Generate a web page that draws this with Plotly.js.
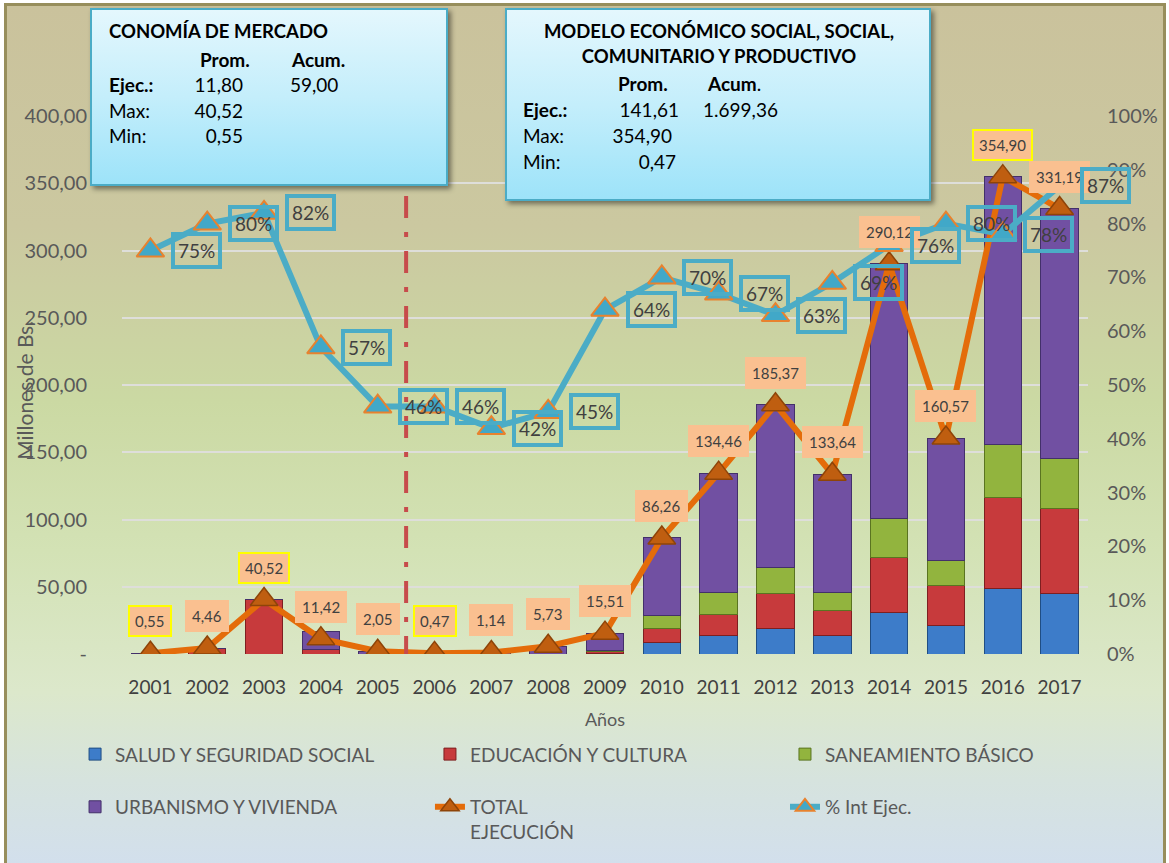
<!DOCTYPE html>
<html>
<head>
<meta charset="utf-8">
<script src="https://cdn.plot.ly/plotly-3.0.1.min.js"></script>
<style>
  html, body { margin:0; padding:0; background:#ffffff; }
  #wrap { position:relative; width:1169px; height:863px; overflow:hidden; }
  #frame { position:absolute; left:4px; top:3px; width:1156px; height:880px;
    border:3px solid #978E5C;
    background: linear-gradient(to bottom, #CAC29C 0%, #CBC8A0 25%, #CBD9A3 45%, #D3E2B5 62%, #DCE8CB 78%, #D6E3DE 88%, #D1DEF0 100%); }
  #chart { position:absolute; left:0; top:0; width:1169px; height:863px; }
  .box { position:absolute; border:2px solid #4BACC6; box-sizing:border-box;
    background: linear-gradient(to bottom, #E4F7FD 0%, #C4EEFB 50%, #9DE3F9 100%);
    box-shadow: 3px 3px 5px rgba(0,0,0,0.45); }
  .t { position:absolute; font-family: Lato, 'Open Sans', sans-serif; font-size:19px; color:#000; white-space:nowrap; line-height:1; }
  .b { font-weight:bold; }
</style>
</head>
<body>
<div id="wrap">
  <div id="frame"></div>
  <div id="chart"></div>
</div>
<script>
// ---------------- data ----------------
const years = ['2001','2002','2003','2004','2005','2006','2007','2008','2009','2010','2011','2012','2013','2014','2015','2016','2017'];
const salud       = [0, 0, 0, 0, 0, 0, 0, 0, 0.5, 8.4, 13.9, 18.8, 13.9, 30.7, 21.1, 48.6, 45.1];
const educacion   = [0, 4.46, 40.52, 3.2, 0, 0, 0, 0, 1.2, 10.7, 15.8, 26.3, 18.3, 40.9, 30.2, 67.9, 63.2];
const saneamiento = [0, 0, 0, 0, 0, 0, 0, 0, 1.0, 9.9, 16.2, 19.1, 13.7, 29.5, 18.1, 38.9, 36.7];
const urbanismo   = [0.55, 0, 0, 13.5, 2.05, 0.47, 1.14, 5.73, 12.81, 57.26, 88.56, 121.17, 87.74, 189.02, 91.17, 199.5, 186.19];
const totalEjec   = [0.55, 4.46, 40.52, 11.42, 2.05, 0.47, 1.14, 5.73, 15.51, 86.26, 134.46, 185.37, 133.64, 290.12, 160.57, 354.90, 331.19];
const pctEjec     = [0.75, 0.80, 0.82, 0.57, 0.46, 0.46, 0.42, 0.45, 0.64, 0.70, 0.67, 0.63, 0.69, 0.76, 0.80, 0.78, 0.87];

const seriesNames = ['SALUD Y SEGURIDAD SOCIAL', 'EDUCACIÓN Y CULTURA', 'SANEAMIENTO BÁSICO', 'URBANISMO Y VIVIENDA', 'TOTAL<br>EJECUCIÓN', '% Int Ejec.'];
const leftTickVals  = [0, 50, 100, 150, 200, 250, 300, 350, 400];
const leftTickText  = ['-', '50,00', '100,00', '150,00', '200,00', '250,00', '300,00', '350,00', '400,00'];
const rightTickVals = [0, 0.1, 0.2, 0.3, 0.4, 0.5, 0.6, 0.7, 0.8, 0.9, 1.0];
const rightTickText = ['0%', '10%', '20%', '30%', '40%', '50%', '60%', '70%', '80%', '90%', '100%'];
const periodSplit = 5; // first 5 years: "Economía de mercado"

const box1Title = 'CONOMÍA DE MERCADO';
const box1Rows = [['Ejec.:', '11,80', '59,00'], ['Max:', '40,52', ''], ['Min:', '0,55', '']];
const box2Title = ['MODELO ECONÓMICO SOCIAL, SOCIAL,', 'COMUNITARIO Y PRODUCTIVO'];
const box2Rows = [['Ejec.:', '141,61', '1.699,36'], ['Max:', '354,90', ''], ['Min:', '0,47', '']];

// ---------------- helpers ----------------
const fmt = v => v.toFixed(2).replace('.', ',');
function extremes(arr, from, to) {
  const part = arr.slice(from, to);
  const mx = Math.max(...part), mn = Math.min(...part);
  return [from + part.indexOf(mx), from + part.indexOf(mn)];
}
const hi = new Set([...extremes(totalEjec, 0, periodSplit), ...extremes(totalEjec, periodSplit, years.length)]);

const FONT = 'Lato, "Open Sans", sans-serif';
const barColors = ['#3D7CC9', '#C73A3C', '#92B43E', '#7150A2'];
const barLines  = ['#1F4E84', '#7E1F20', '#5A7420', '#43306A'];
const barData = [salud, educacion, saneamiento, urbanismo];
const legendIds = ['legend', 'legend2', 'legend3', 'legend4', 'legend5', 'legend6'];

const traces = barData.map((d, i) => ({
  type: 'bar', x: years, y: d, name: seriesNames[i],
  marker: { color: barColors[i], line: { color: barLines[i], width: 1 } },
  legend: legendIds[i], hoverinfo: 'y'
}));
traces.push({
  type: 'scatter', mode: 'lines+markers', x: years, y: totalEjec, name: seriesNames[4],
  line: { color: '#E46C0A', width: 6 },
  marker: { symbol: 'triangle-up', size: 24, color: '#BF5E10', line: { color: '#8E4408', width: 1.5 } },
  legend: legendIds[4]
});
traces.push({
  type: 'scatter', mode: 'lines+markers', x: years, y: pctEjec, name: seriesNames[5], yaxis: 'y2',
  line: { color: '#4BACC6', width: 6 },
  marker: { symbol: 'triangle-up', size: 24, color: '#41A8C8', line: { color: '#E8822E', width: 2 } },
  legend: legendIds[5]
});

const annotations = [];
// category axis: positions given as category index
totalEjec.forEach((v, i) => {
  annotations.push({
    x: i, y: v, xref: 'x', yref: 'y', text: fmt(v), showarrow: false, yshift: 32,
    font: { family: FONT, size: 15, color: '#404040' },
    bgcolor: '#FAC090', bordercolor: hi.has(i) ? '#FFFF00' : '#FAC090', borderwidth: 2, borderpad: 5
  });
});
pctEjec.forEach((v, i) => {
  annotations.push({
    x: i, y: v, xref: 'x', yref: 'y2', text: Math.round(v * 100) + '%', showarrow: false,
    xshift: 46,
    font: { family: FONT, size: 19, color: '#404040' },
    bgcolor: 'rgba(0,0,0,0)', bordercolor: '#4BACC6', borderwidth: 4, borderpad: 3
  });
});
annotations.push({
  xref: 'paper', yref: 'paper', x: -0.101, y: 0.49, xanchor: 'center', yanchor: 'middle',
  text: 'Millones de Bs.', textangle: -90,
  showarrow: false, font: { family: FONT, size: 21, color: '#595959' }
});

const legendBase = {
  orientation: 'h', xref: 'container', yref: 'container',
  font: { family: FONT, size: 19, color: '#595959' }, bgcolor: 'rgba(0,0,0,0)', valign: 'top',
  itemclick: false
};
const legendX = [0.0642, 0.3678, 0.6715];
const legendRowY = [[0.126, 'middle'], [0.087, 'top']];

const layout = {
  width: 1169, height: 863,
  margin: { l: 122, r: 81, t: 116, b: 209, autoexpand: false },
  paper_bgcolor: 'rgba(0,0,0,0)', plot_bgcolor: 'rgba(0,0,0,0)',
  font: { family: FONT, color: '#595959' },
  barmode: 'stack', bargap: 0.34,
  xaxis: {
    type: 'category', range: [-0.5, years.length - 0.5], showgrid: false, zeroline: false, showline: false,
    ticks: 'outside', ticklen: 16, tickcolor: 'rgba(0,0,0,0)',
    tickfont: { family: FONT, size: 19, color: '#404040' },
    title: { text: 'Años', font: { family: FONT, size: 18, color: '#595959' }, standoff: 16 },
    automargin: false
  },
  yaxis: {
    range: [0, 400], tickvals: leftTickVals, ticktext: leftTickText,
    showgrid: true, gridcolor: '#DEDEDA', gridwidth: 2, zeroline: false, showline: false,
    ticks: 'outside', ticklen: 30, tickcolor: 'rgba(0,0,0,0)',
    tickfont: { family: FONT, size: 20, color: '#595959' },
    automargin: false
  },
  yaxis2: {
    overlaying: 'y', side: 'right', range: [0, 1], tickvals: rightTickVals, ticktext: rightTickText,
    showgrid: false, zeroline: false, showline: false,
    ticks: 'outside', ticklen: 14, tickcolor: 'rgba(0,0,0,0)',
    tickfont: { family: FONT, size: 20, color: '#595959' },
    automargin: false
  },
  shapes: [{
    type: 'line', xref: 'x', yref: 'y', x0: periodSplit - 0.5, x1: periodSplit - 0.5, y0: -3, y1: 400,
    line: { color: '#C74B4B', width: 4, dash: '22px,14px,5px,14px' }, layer: 'above'
  }],
  annotations: annotations,
  showlegend: true
};
legendIds.forEach((id, k) => {
  const row = legendRowY[Math.floor(k / 3)];
  layout[id] = Object.assign({}, legendBase, { x: legendX[k % 3], y: row[0], yanchor: row[1] });
});

Plotly.newPlot('chart', traces, layout, { displayModeBar: false, staticPlot: true }).then(() => {
  const wrap = document.getElementById('wrap');
  function box(l, t, w, h) {
    const d = document.createElement('div');
    d.className = 'box';
    Object.assign(d.style, { left: l + 'px', top: t + 'px', width: w + 'px', height: h + 'px', zIndex: 5 });
    wrap.appendChild(d);
  }
  function txt(s, x, cy, opt) {
    opt = opt || {};
    const d = document.createElement('div');
    d.className = 't' + (opt.bold ? ' b' : '');
    d.innerHTML = s;
    d.style.top = (cy - 10) + 'px';
    d.style.zIndex = 6;
    if (opt.align === 'right') { d.style.left = (x - 200) + 'px'; d.style.width = '200px'; d.style.textAlign = 'right'; }
    else if (opt.align === 'center') { d.style.left = (x - 300) + 'px'; d.style.width = '600px'; d.style.textAlign = 'center'; }
    else d.style.left = x + 'px';
    if (opt.size) d.style.fontSize = opt.size + 'px';
    wrap.appendChild(d);
  }
  // Box 1
  box(90, 8, 358, 178);
  txt(box1Title, 109, 32, { bold: true, size: 18.5 });
  txt('Prom.', 200, 60, { bold: true });
  txt('Acum.', 292, 60, { bold: true });
  box1Rows.forEach((r, k) => {
    const cy = 85 + k * 25.5;
    txt(r[0], 109, cy, { bold: k === 0 });
    txt(r[1], 243, cy, { align: 'right' });
    if (r[2]) txt(r[2], 290, cy);
  });
  // Box 2
  box(505, 8, 426, 193);
  txt(box2Title[0], 719, 32, { bold: true, align: 'center', size: 18.5 });
  txt(box2Title[1], 719, 57, { bold: true, align: 'center', size: 18.5 });
  txt('Prom.', 618, 84, { bold: true });
  txt('<b>Acum</b>.', 708, 84);
  box2Rows.forEach((r, k) => {
    const cy = 110 + k * 25.8;
    txt(r[0], 523, cy, { bold: k === 0 });
    txt(r[1], [679, 672, 676][k], cy, { align: 'right' });
    if (r[2]) txt(r[2], 703, cy);
  });
});
</script>
</body>
</html>
